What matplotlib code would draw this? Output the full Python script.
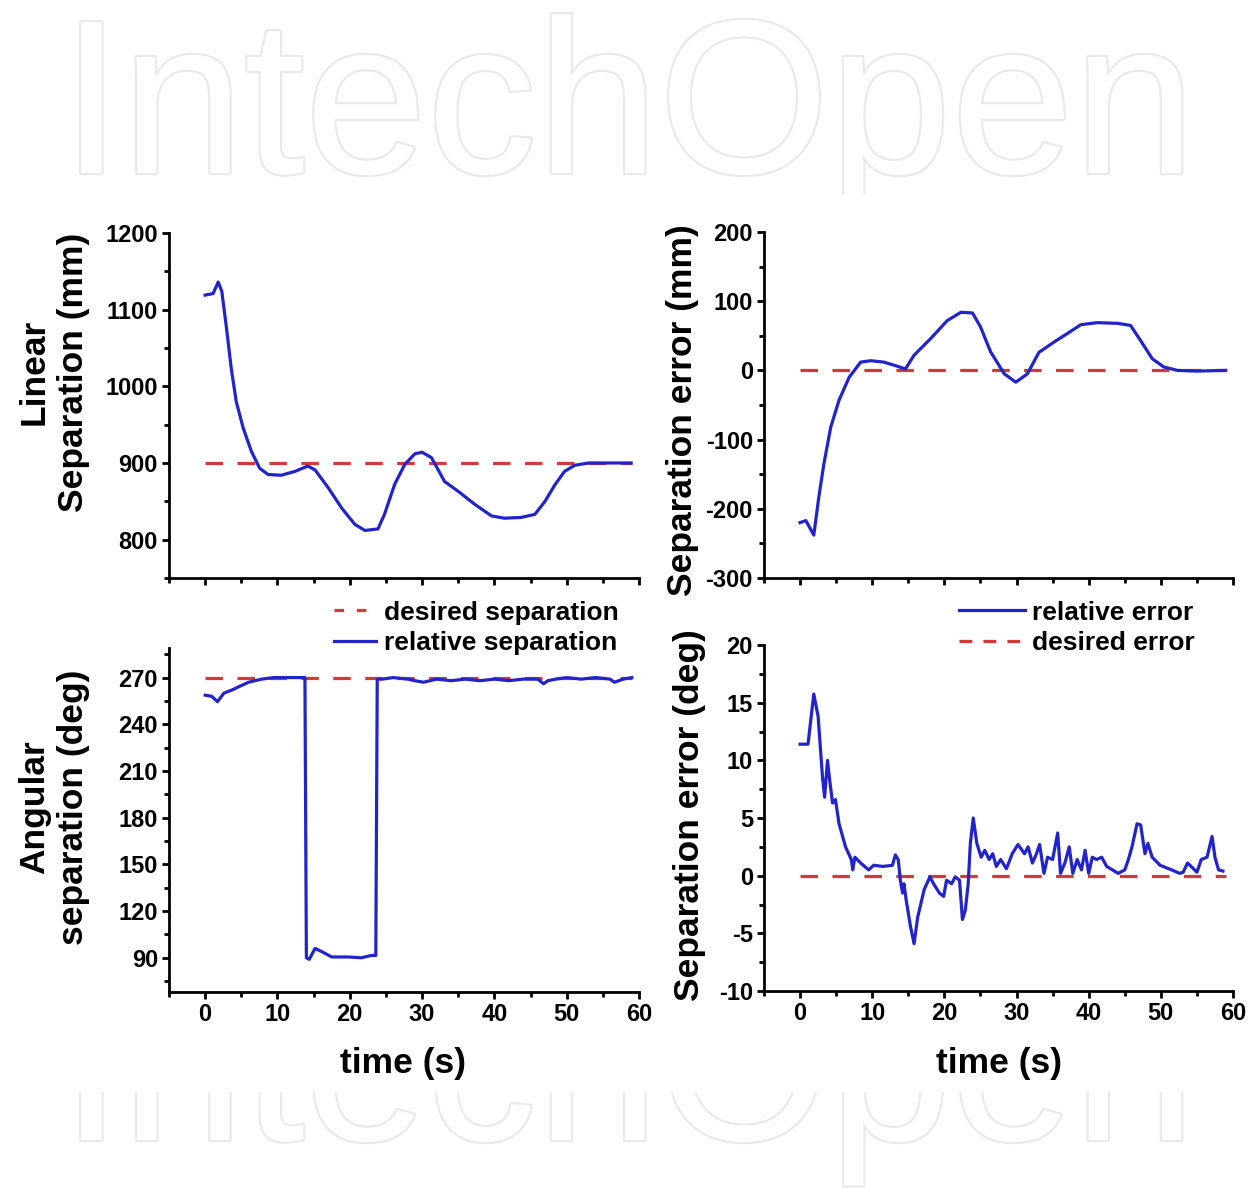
import matplotlib
matplotlib.use('Agg')
import matplotlib.pyplot as plt
from matplotlib.ticker import MultipleLocator
from matplotlib.lines import Line2D
from matplotlib.patches import Rectangle
import matplotlib.patheffects as pe

plt.rcParams['font.family'] = ['Liberation Sans', 'DejaVu Sans']
plt.rcParams['font.weight'] = 'bold'
plt.rcParams['axes.unicode_minus'] = False

# linear separation (mm)
t_lin = [0, 1.1, 1.8, 2.3, 2.95, 3.6, 4.3, 5.25, 6.4, 7.55, 8.7, 10.5, 12.4, 14.2,
         15.2, 17.0, 18.9, 20.7, 22.1, 23.9, 24.8, 26.2, 27.6, 29.0, 30.0, 31.3,
         33.1, 35.0, 37.3, 39.6, 41.4, 43.7, 45.6, 47.0, 48.4, 49.7, 51.1, 53.0,
         58.9]
lin_sep = [1119, 1121, 1136, 1124, 1076, 1024, 980, 946, 915, 893, 885, 884, 889, 896,
           891, 868, 841, 820, 812, 814, 833, 872, 898, 912, 914, 907,
           876, 863, 846, 831, 828, 829, 833, 850, 872, 889, 897, 900,
           900]
lin_desired = 900

# linear separation error (mm)
t_err = [0, 0.8, 1.9, 2.6, 3.3, 4.25, 5.4, 6.8, 8.4, 9.8, 11.6, 13.5, 14.6, 15.8,
         18.1, 20.4, 22.3, 23.9, 25.0, 26.4, 28.3, 29.9, 31.5, 33.1, 35.2, 37.0,
         38.9, 41.2, 44.0, 45.8, 47.2, 48.8, 50.4, 52.3, 55, 59]
lin_err = [-220, -217, -238, -183, -135, -82, -43, -10, 12, 14, 12, 6, 2, 22,
           46, 72, 84, 83, 63, 27, -5, -17, -5, 26, 41, 53,
           66, 69, 68, 65, 43, 17, 5, 0, -1, 0]

# angular separation (deg)
t_ang = [0, 0.9, 1.7, 2.6, 3.7, 4.6, 6, 7.8, 9.5, 13.8, 14.0, 14.4, 15.2, 16.1,
         17.5, 19.8, 21.6, 23, 23.6, 23.8, 24.5, 26, 28, 29, 30.2, 32, 34, 36,
         38, 40, 42, 44, 46, 46.8, 47.4, 48.5, 50, 52, 54, 56, 56.6, 57.8, 59]
ang_sep = [258.7, 258, 254.5, 260, 262, 264, 267, 269, 270, 270, 90, 89, 96, 94,
           90.5, 90.5, 90, 91.5, 91.5, 269, 269, 270, 269, 268, 267, 269, 268, 269,
           268, 269, 268, 269, 269, 266, 268, 269, 270, 269, 270, 269, 267, 269, 270]
ang_desired = 270

# angular separation error (deg)
t_aerr = [0, 1.1, 1.9, 2.5, 3.1, 3.4, 3.8, 4.1, 4.5, 4.9, 5.4, 6.3, 7.1, 7.3, 7.6,
          8.4, 9.5, 10.2, 11.5, 12.8, 13.2, 13.6, 13.9, 14.2, 14.4, 14.7, 15.3,
          15.8, 16.3, 17.2, 18, 18.5, 19.3, 19.9, 20.3, 21, 21.5, 22.1, 22.5,
          22.9, 23.3, 23.6, 24, 24.5, 25.1, 25.6, 26.2, 26.7, 27.2, 27.8, 28.6,
          29.4, 30.2, 31.1, 31.6, 32.2, 32.7, 33.2, 33.8, 34.3, 35, 35.7, 36.1,
          36.7, 37.3, 37.8, 38.4, 39, 39.5, 40, 40.5, 41.1, 41.8, 42.5, 43.3,
          44.1, 45, 45.5, 46, 46.7, 47.2, 47.8, 48.2, 48.8, 49.9, 51.5, 52.6,
          53.1, 53.7, 54.2, 55, 55.6, 56.4, 57.1, 57.5, 58, 58.6]
ang_err = [11.4, 11.4, 15.75, 13.8, 8.6, 6.8, 10.0, 8.3, 6.3, 6.6, 4.5, 2.5, 1.4, 0.5, 1.6,
           1.1, 0.5, 0.9, 0.8, 0.9, 1.8, 1.4, -0.4, -1.5, -0.7, -2.1, -4.4,
           -5.9, -3.6, -1.2, -0.1, -0.7, -1.5, -1.8, -0.4, -0.7, -0.1, -0.4, -3.8,
           -3.0, -0.7, 2.8, 5.0, 2.8, 1.6, 2.2, 1.4, 1.9, 0.8, 1.4, 0.6,
           1.9, 2.7, 1.9, 2.5, 1.1, 1.8, 2.7, 0.2, 1.6, 1.4, 3.7, 0.2,
           1.1, 2.5, 0.2, 1.4, 0.5, 2.2, 0.2, 1.6, 1.4, 1.6, 0.8, 0.5,
           0.2, 0.5, 1.4, 2.5, 4.5, 4.4, 1.9, 2.8, 1.6, 0.9, 0.5, 0.2,
           0.3, 1.1, 0.8, 0.3, 1.4, 1.6, 3.4, 1.6, 0.5, 0.4]
err_desired = 0
t_desired = [0, 59]

BLUE = '#2323cc'
RED = '#d23a3a'
W, H = 1257, 1188

fig = plt.figure(figsize=(W / 100, H / 100), dpi=100)
fig.patch.set_facecolor('white')

# faint watermark behind the chart
wm_kw = dict(ha='center', va='baseline', fontsize=158, fontweight='normal',
             color='white', zorder=-5,
             path_effects=[pe.withStroke(linewidth=3, foreground='#e9e9e9')])
fig.text(0.5, 1 - 173 / H, 'IntechOpen', **wm_kw)
fig.text(0.5, 1 - 1140 / H, 'IntechOpen', **wm_kw)
fig.patches.append(Rectangle((0, 1 - 1092 / H), 1, (1092 - 195) / H,
                             transform=fig.transFigure, facecolor='white',
                             edgecolor='none', zorder=-4))


def make_ax(x0, x1, y0, y1):
    return fig.add_axes([x0 / W, 1 - y1 / H, (x1 - x0) / W, (y1 - y0) / H])


ax_tl = make_ax(169, 639, 233, 578)
ax_tr = make_ax(764, 1233, 232, 578)
ax_bl = make_ax(169, 639, 648, 992)
ax_br = make_ax(764, 1233, 645, 991)

dash = (5.5, 4.5)
LW = 2.3

ax_tl.plot(t_desired, [lin_desired] * 2, color=RED, lw=LW, dashes=dash)
ax_tl.plot(t_lin, lin_sep, color=BLUE, lw=LW)
ax_tl.set_ylim(750, 1200)
ax_tl.yaxis.set_major_locator(MultipleLocator(100))
ax_tl.yaxis.set_minor_locator(MultipleLocator(50))

ax_tr.plot(t_desired, [err_desired] * 2, color=RED, lw=LW, dashes=dash)
ax_tr.plot(t_err, lin_err, color=BLUE, lw=LW)
ax_tr.set_ylim(-300, 200)
ax_tr.yaxis.set_major_locator(MultipleLocator(100))
ax_tr.yaxis.set_minor_locator(MultipleLocator(50))

ax_bl.plot(t_desired, [ang_desired] * 2, color=RED, lw=LW, dashes=dash)
ax_bl.plot(t_ang, ang_sep, color=BLUE, lw=LW)
ax_bl.set_ylim(68, 289)
ax_bl.yaxis.set_major_locator(MultipleLocator(30))
ax_bl.yaxis.set_minor_locator(MultipleLocator(15))

ax_br.plot(t_desired, [err_desired] * 2, color=RED, lw=LW, dashes=dash)
ax_br.plot(t_aerr, ang_err, color=BLUE, lw=LW)
ax_br.set_ylim(-10, 20)
ax_br.yaxis.set_major_locator(MultipleLocator(5))
ax_br.yaxis.set_minor_locator(MultipleLocator(2.5))

for ax in (ax_tl, ax_tr, ax_bl, ax_br):
    ax.set_xlim(-5, 60)
    ax.xaxis.set_major_locator(MultipleLocator(10))
    ax.xaxis.set_minor_locator(MultipleLocator(5))
    for s in ('top', 'right'):
        ax.spines[s].set_visible(False)
    for s in ('left', 'bottom'):
        ax.spines[s].set_linewidth(2)
    ax.tick_params(which='major', direction='out', length=5, width=2,
                   labelsize=17, pad=3)
    ax.tick_params(which='minor', direction='out', length=3.5, width=2)
    for lab in ax.get_xticklabels() + ax.get_yticklabels():
        lab.set_fontweight('bold')

ax_tl.tick_params(labelbottom=False)
ax_tr.tick_params(labelbottom=False)

lab_kw = dict(rotation=90, ha='center', va='center', fontsize=25.5,
              fontweight='bold', multialignment='center', linespacing=1.25)
fig.text(54 / W, 1 - 372 / H, 'Linear\nSeparation (mm)', **lab_kw)
fig.text(682 / W, 1 - 410 / H, 'Separation error (mm)', **lab_kw)
fig.text(54 / W, 1 - 807 / H, 'Angular\nseparation (deg)', **lab_kw)
fig.text(690 / W, 1 - 815 / H, 'Separation error (deg)', **lab_kw)

fig.text(403 / W, 1 - 1063 / H, 'time (s)', ha='center', va='center',
         fontsize=25.5, fontweight='bold')
fig.text(999 / W, 1 - 1063 / H, 'time (s)', ha='center', va='center',
         fontsize=25.5, fontweight='bold')

leg_font = {'weight': 'bold', 'size': 19}
h_des = Line2D([], [], color=RED, lw=LW, dashes=(3, 4))
h_rel = Line2D([], [], color=BLUE, lw=LW)
fig.legend([h_des, h_rel], ['desired separation', 'relative separation'],
           loc='center', bbox_to_anchor=(476 / W, 1 - 628 / H), frameon=False,
           prop=leg_font, handlelength=1.6, handletextpad=0.3,
           labelspacing=0.25, borderpad=0)
h_des2 = Line2D([], [], color=RED, lw=LW, dashes=(4, 3.5))
fig.legend([h_rel, h_des2], ['relative error', 'desired error'],
           loc='center', bbox_to_anchor=(1077 / W, 1 - 628 / H), frameon=False,
           prop=leg_font, handlelength=2.5, handletextpad=0.25,
           labelspacing=0.25, borderpad=0)

fig.savefig('out.png', dpi=100, facecolor='white')
